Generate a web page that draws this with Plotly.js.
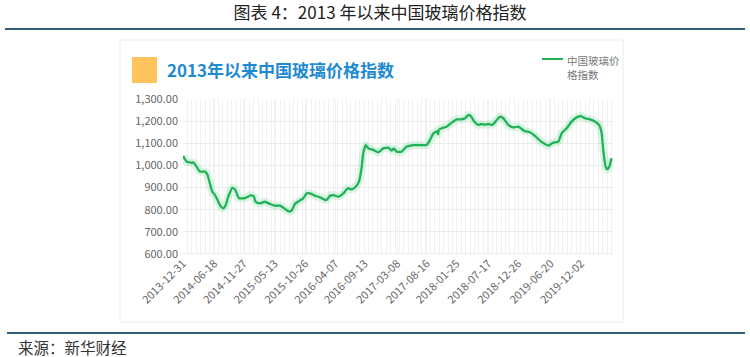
<!DOCTYPE html>
<html>
<head>
<meta charset="utf-8">
<script src="https://cdn.plot.ly/plotly-3.0.1.min.js"></script>
<style>
html,body{margin:0;padding:0;background:#fff;}
#chart{width:750px;height:357px;}
</style>
</head>
<body>
<div id="chart"></div>
<script>
// ---- data ----
const dates = [
 '2013-12-31','2014-01-20','2014-02-16','2014-02-25','2014-03-12','2014-04-02','2014-04-29','2014-05-12',
 '2014-06-08','2014-06-23','2014-07-20','2014-08-07','2014-08-20','2014-09-03','2014-09-25','2014-10-09',
 '2014-10-31','2014-12-03','2015-01-04','2015-01-21','2015-01-26','2015-02-04','2015-02-22','2015-03-21',
 '2015-04-18','2015-05-15','2015-06-11','2015-06-29','2015-07-30','2015-08-13','2015-08-31','2015-09-22',
 '2015-10-15','2015-11-03','2015-11-21','2015-12-18','2016-01-14','2016-02-10','2016-02-23','2016-03-08',
 '2016-03-26','2016-04-23','2016-05-20','2016-06-13','2016-07-04','2016-07-26','2016-08-13','2016-08-28',
 '2016-09-05','2016-09-18','2016-10-03','2016-10-30','2016-11-26','2016-12-23','2017-01-19','2017-02-06',
 '2017-02-17','2017-03-06','2017-04-02','2017-04-29','2017-06-04','2017-07-01','2017-08-16','2017-09-03',
 '2017-09-21','2017-10-14','2017-10-17','2017-10-20','2017-11-05','2017-12-02','2017-12-30','2018-01-26',
 '2018-02-22','2018-03-12','2018-03-30','2018-04-13','2018-05-01','2018-05-23','2018-06-10','2018-06-28',
 '2018-07-16','2018-08-07','2018-08-31','2018-09-18','2018-10-06','2018-11-02','2018-11-29','2018-12-26',
 '2019-01-31','2019-02-28','2019-03-27','2019-04-23','2019-05-20','2019-06-07','2019-07-04','2019-08-01',
 '2019-08-19','2019-09-15','2019-10-12','2019-11-09','2019-12-02','2019-12-24','2020-01-20','2020-02-16',
 '2020-03-09','2020-03-23','2020-04-01','2020-04-14','2020-04-23','2020-05-04','2020-05-16'
];
const glassIndex = [
 1043,1017,1012,1014,998,972,972,960,
 881,866,821,806,821,859,899,892,
 852,852,866,859,841,833,829,836,
 826,818,818,809,791,796,826,839,
 851,874,874,863,856,844,847,863,
 866,859,874,897,892,904,927,994,
 1055,1092,1077,1070,1059,1077,1080,1067,
 1077,1062,1062,1085,1092,1092,1092,1115,
 1145,1155,1140,1160,1168,1175,1193,1208,
 1208,1213,1228,1223,1198,1183,1187,1183,
 1187,1183,1205,1220,1213,1183,1172,1175,
 1155,1150,1133,1112,1097,1089,1103,1107,
 1145,1168,1198,1217,1223,1213,1208,1198,
 1183,1148,1070,994,982,994,1032
];
const tickDates = ['2013-12-31','2014-06-18','2014-11-27','2015-05-13','2015-10-26','2016-04-07','2016-09-13',
 '2017-03-08','2017-08-16','2018-01-25','2018-07-17','2018-12-26','2019-06-20','2019-12-02'];
const yTicks = [600,700,800,900,1000,1100,1200,1300];
const seriesName = '中国玻璃价格指数';
const figureTitle = '图表 4：2013 年以来中国玻璃价格指数';
const innerTitle = '2013年以来中国玻璃价格指数';
const sourceText = '来源：新华财经';

// ---- layout helpers (pixel -> paper) ----
const L = 183, R = 613, T = 99, B = 254, W = 750, H = 357;
const px = x => (x - L) / (R - L);
const py = y => (B - y) / (B - T);
const FONT = '"Noto Sans CJK SC", "Noto Sans", sans-serif';
const green = '#1fb257';

const traces = [
 {x: dates, y: glassIndex, type: 'scatter', mode: 'lines', hoverinfo: 'skip', showlegend: false,
  line: {color: 'rgba(40,200,100,0.16)', width: 8, shape: 'spline', smoothing: 0.4}},
 {x: dates, y: glassIndex, type: 'scatter', mode: 'lines', name: seriesName, showlegend: false,
  line: {color: green, width: 2.3, shape: 'spline', smoothing: 0.4}}
];

const layout = {
 width: W, height: H,
 margin: {l: L, r: W - R, t: T, b: H - B, pad: 0},
 paper_bgcolor: '#ffffff', plot_bgcolor: '#ffffff',
 font: {family: FONT, color: '#666'},
 title: {text: figureTitle, x: 380 / W, xref: 'container', xanchor: 'center',
         y: 1 - 13 / H, yref: 'container', yanchor: 'middle',
         font: {family: FONT, size: 17, color: '#222'}},
 xaxis: {type: 'date', range: ['2013-12-31', '2020-05-24'],
         tickmode: 'array', tickvals: tickDates, ticktext: tickDates,
         tickangle: -45, tickfont: {size: 11, color: '#666', family: FONT},
         showgrid: true, gridcolor: '#f1f1f1', gridwidth: 1,
         minor: {dtick: 86400000 * 24, tick0: '2013-12-31', showgrid: true, gridcolor: '#f1f1f1', gridwidth: 1},
         showline: false, zeroline: false, ticks: '', fixedrange: true},
 yaxis: {range: [600, 1300], tickmode: 'array', tickvals: yTicks,
         tickformat: ',.2f', tickfont: {size: 11, color: '#666', family: FONT},
         showgrid: true, gridcolor: '#ececec', gridwidth: 1,
         zeroline: false, showline: false, ticks: '', ticklabelstandoff: 4, fixedrange: true},
 shapes: [
  // figure rules
  {type: 'line', xref: 'paper', yref: 'paper', x0: px(5), x1: px(745), y0: py(29), y1: py(29),
   line: {color: '#2e5f75', width: 2}},
  {type: 'line', xref: 'paper', yref: 'paper', x0: px(7), x1: px(745), y0: py(333), y1: py(333),
   line: {color: '#2e5f75', width: 2}},
  // inner card border
  {type: 'rect', xref: 'paper', yref: 'paper', x0: px(120), x1: px(623), y0: py(322), y1: py(40),
   line: {color: '#ececec', width: 1}, fillcolor: 'rgba(0,0,0,0)', layer: 'below'},
  // axis base line
  {type: 'line', xref: 'paper', yref: 'y', x0: 0, x1: 1, y0: 600, y1: 600,
   line: {color: '#dcdcdc', width: 1}},
  // orange title marker
  {type: 'rect', xref: 'paper', yref: 'paper', x0: px(132), x1: px(157), y0: py(83), y1: py(57),
   line: {width: 0}, fillcolor: '#ffc45e'},
  // legend swatch
  {type: 'line', xref: 'paper', yref: 'paper', x0: px(542), x1: px(563), y0: py(59), y1: py(59),
   line: {color: green, width: 2}}
 ],
 annotations: [
  {text: '<b>' + innerTitle + '</b>', xref: 'paper', yref: 'paper', x: px(165), y: py(69),
   xanchor: 'left', yanchor: 'middle', showarrow: false,
   font: {family: FONT, size: 17, color: '#1f8ad2'}},
  {text: '中国玻璃价<br>格指数', xref: 'paper', yref: 'paper', x: px(565), y: py(51),
   xanchor: 'left', yanchor: 'top', align: 'left', showarrow: false,
   font: {family: FONT, size: 10.5, color: '#777'}},
  {text: sourceText, xref: 'paper', yref: 'paper', x: px(16), y: py(347),
   xanchor: 'left', yanchor: 'middle', showarrow: false,
   font: {family: FONT, size: 15.5, color: '#333'}}
 ]
};

Plotly.newPlot('chart', traces, layout, {displayModeBar: false, staticPlot: true});
</script>
</body>
</html>
